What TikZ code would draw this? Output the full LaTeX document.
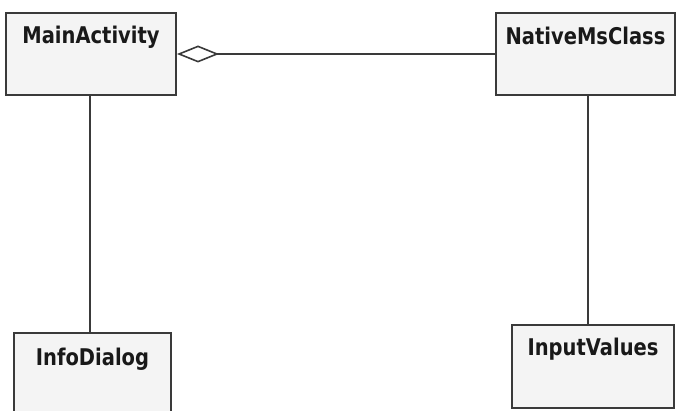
\documentclass[tikz,border=0pt]{standalone}
\usepackage{fontspec}
\setmainfont{DejaVu Sans}
\usetikzlibrary{arrows.meta}
\definecolor{umlline}{HTML}{3A3A3A}
\definecolor{umlfill}{HTML}{F4F4F4}
\newcommand{\classtitle}[1]{\scalebox{1}[1.18]{#1}}
\tikzset{
  classbox/.style={draw=umlline, fill=umlfill, line width=2pt, inner sep=0pt},
  classname/.style={inner sep=0pt, font=\fontsize{19.5}{21}\selectfont\bfseries, text=black!90},
  link/.style={draw=umlline, line width=2pt},
}
\begin{document}
\begin{tikzpicture}[x=1pt, y=-1pt]
  \useasboundingbox (0,0) rectangle (676,411);
  \clip (0,0) rectangle (676,411);
  \fill[white] (0,0) rectangle (676,411);

  % class boxes
  \node[classbox, minimum width=170pt, minimum height=82pt] (ma) at (91,54) {};
  \node[classbox, minimum width=179pt, minimum height=82pt] (nm) at (585.5,54) {};
  \node[classbox, minimum width=157pt, minimum height=82pt] (id) at (92.5,374) {};
  \node[classbox, minimum width=162pt, minimum height=83pt] (iv) at (593,366.5) {};

  % class names (the y axis points down, shifts are in page units)
  \node[classname] (maname) at ([yshift=-25pt]ma.north) {\classtitle{MainActivity}};
  \node[classname] (nmname) at ([yshift=-24pt]nm.north) {\classtitle{NativeMsClass}};
  \node[classname] (idname) at ([yshift=-27pt]id.north) {\classtitle{InfoDialog}};
  \node[classname] (ivname) at ([yshift=-25pt]iv.north) {\classtitle{InputValues}};

  % aggregation between MainActivity and NativeMsClass
  \draw[link, {Diamond[open, length=42pt, width=17pt, line width=1.6pt, fill=white]}-] (ma.east) -- (nm.west);

  % plain associations
  \draw[link] ([xshift=-1pt]ma.south) -- ([xshift=-1pt]ma.south |- id.north);
  \draw[link] ([xshift=2.5pt]nm.south) -- ([xshift=2.5pt]nm.south |- iv.north);
\end{tikzpicture}
\end{document}
